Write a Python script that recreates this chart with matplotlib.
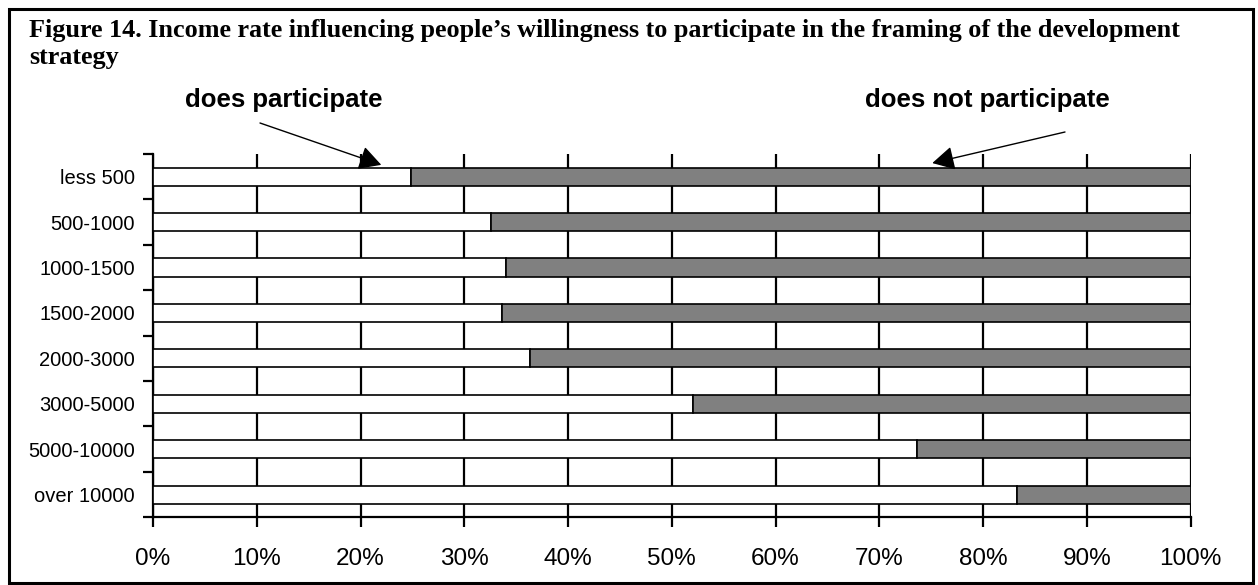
import matplotlib.pyplot as plt
from matplotlib.patches import Rectangle

# income groups (top to bottom) and share that participates, in %
categories = ['less 500', '500-1000', '1000-1500', '1500-2000',
              '2000-3000', '3000-5000', '5000-10000', 'over 10000']
participate = [24.9, 32.6, 34.0, 33.6, 36.3, 52.0, 73.6, 83.3]
not_participate = [100 - v for v in participate]
x_ticks = list(range(0, 101, 10))

title = ("Figure 14. Income rate influencing people\u2019s willingness to participate "
         "in the framing of the development\nstrategy")

plt.rcParams['font.family'] = ['Liberation Sans', 'DejaVu Sans']

W, H = 1258, 585
fig = plt.figure(figsize=(W / 100, H / 100), dpi=100)
ax = fig.add_axes([0.1216, 0.1157, 0.8249, 0.6211])

y = list(range(len(categories)))
ax.barh(y, participate, height=0.4, color='white', edgecolor='black',
        linewidth=1.2, zorder=3)
ax.barh(y, not_participate, left=participate, height=0.4, color='#808080',
        edgecolor='black', linewidth=1.2, zorder=3)

ax.set_xlim(0, 100)
ax.set_ylim(len(categories) - 0.5, -0.5)

# vertical grid lines
ax.set_xticks(x_ticks)
ax.set_xticklabels([f'{t}%' for t in x_ticks], fontsize=17.5)
ax.grid(axis='x', color='black', linewidth=1.6, zorder=1)
ax.tick_params(axis='x', direction='out', length=7, width=1.6, pad=15)

# category boundaries as major ticks, names on minor ticks
ax.set_yticks([i - 0.5 for i in range(len(categories) + 1)])
ax.set_yticklabels([])
ax.set_yticks(y, minor=True)
ax.set_yticklabels(categories, minor=True, fontsize=14.5)
ax.tick_params(axis='y', which='major', direction='out', length=7, width=1.6)
ax.tick_params(axis='y', which='minor', length=0, pad=13)

ax.spines['top'].set_visible(False)
ax.spines['right'].set_visible(False)
ax.spines['left'].set_linewidth(1.6)
ax.spines['bottom'].set_linewidth(1.6)

# labels with arrows
arrow = dict(arrowstyle='-|>,head_length=0.68,head_width=0.37', color='black',
             linewidth=1.0, shrinkA=0, shrinkB=0, mutation_scale=20)
ax.annotate('', xy=(22.0, -0.26), xycoords='data',
            xytext=(260 / W, 1 - 123 / H), textcoords='figure fraction',
            arrowprops=arrow, annotation_clip=False)
ax.annotate('', xy=(75.1, -0.30), xycoords='data',
            xytext=(1065 / W, 1 - 132 / H), textcoords='figure fraction',
            arrowprops=arrow, annotation_clip=False)
fig.text(284 / W, 1 - 100 / H, 'does participate', ha='center', va='center',
         fontsize=18.5, fontweight='bold')
fig.text(987 / W, 1 - 100 / H, 'does not participate', ha='center', va='center',
         fontsize=18.5, fontweight='bold')

fig.text(29 / W, 1 - 19 / H, title, ha='left', va='top',
         fontsize=18.8, fontweight='bold', family='Liberation Serif',
         linespacing=1.2)

# frame around the whole figure
fig.patches.append(Rectangle((9 / W, 2 / H), 1244 / W, 574 / H,
                             transform=fig.transFigure, fill=False,
                             edgecolor='black', linewidth=2.2))

plt.savefig('out.png', dpi=100)
plt.close()
